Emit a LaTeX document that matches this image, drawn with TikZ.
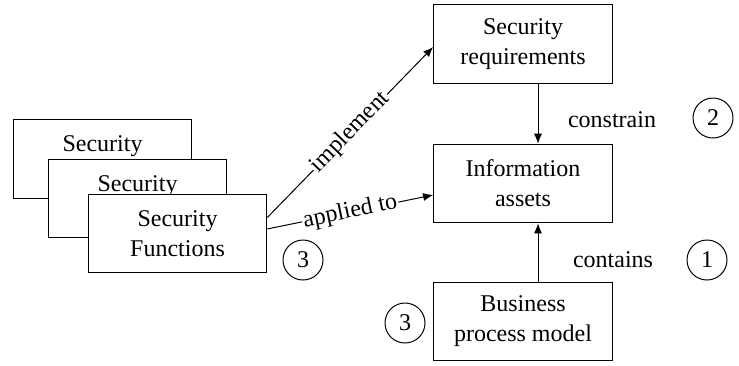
\documentclass[tikz,border=0pt]{standalone}
\usepackage{fontspec}
\setmainfont{Liberation Serif}
\usetikzlibrary{arrows.meta, calc}

\begin{document}
\begin{tikzpicture}[x = 0.75pt, y = -0.75pt,
    font = \fontsize{18}{22.5}\selectfont,
    box/.style = {draw, fill=white, line width=0.75pt, align=center,
                  minimum width=134pt, minimum height=59pt, inner sep=2pt},
    num/.style = {draw, circle, line width=0.75pt, minimum size=30pt, inner sep=0pt},
    conn/.style = {line width=0.75pt, -{Latex[length=7.5pt, width=6pt]}},
    lbl/.style = {sloped, fill=white, inner sep=1pt}]

    \useasboundingbox (0,0) rectangle (739,365);

    % Pila di funzioni di sicurezza
    \node[box] (sfa) at (102.5,159)   {Security\\Functions};
    \node[box] (sfb) at (137.5,198.5) {Security\\Functions};
    \node[box] (sfc) at (177.5,233.5) {Security\\Functions};

    % Colonna di destra
    \node[box] (req)  at (523,44)    {Security\\requirements};
    \node[box] (info) at (523,183.5) {Information\\assets};
    \node[box] (bpm)  at (523,321.5) {Business\\process model};

    % Frecce verticali
    \draw[conn] ([xshift=11.25pt]req.south) -- ([xshift=11.25pt]info.north);
    \draw[conn] ([xshift=11.25pt]bpm.north) -- ([xshift=11.25pt]info.south);
    \node (constr) at (612,120) {constrain};
    \node (cont)   at (613,260) {contains};

    % Frecce dalle funzioni
    \draw[conn] ([yshift=12pt]sfc.east) -- ([yshift=-2.25pt]req.west)
        node[lbl, midway] {implement};
    \draw[conn] ([yshift=3.4pt]sfc.east) -- ([yshift=-8.6pt]info.west)
        node[lbl, midway] {applied to};

    % Numeri
    \node[num] (n2)  at (713,118) {2};
    \node[num] (n1)  at (707,260) {1};
    \node[num] (n3a) at (303,260) {3};
    \node[num] (n3b) at (405,323) {3};

\end{tikzpicture}
\end{document}
